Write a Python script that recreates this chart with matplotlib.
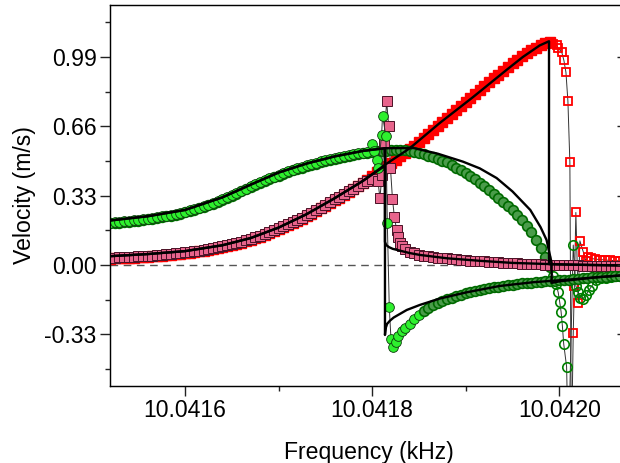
import numpy as np
import matplotlib
matplotlib.use('Agg')
import matplotlib.pyplot as plt
from matplotlib.ticker import FixedLocator, FormatStrFormatter

plt.rcParams['font.family'] = ['Liberation Sans', 'DejaVu Sans']
plt.rcParams['axes.unicode_minus'] = False

# frequencies are written as offsets in mHz above F0 (kHz)
F0 = 10.0415

# smooth part of the sweeps, common frequency grid
grid = [20, 25, 30, 35, 40, 45, 50, 55, 60, 65, 70, 75, 80, 85, 90, 95, 100, 105, 110, 115,
        120, 125, 130, 135, 140, 145, 150, 155, 160, 165, 170, 175, 180, 185, 190, 195, 200, 205, 210, 215,
        220, 225, 230, 235, 240, 245, 250, 255, 260, 265, 270, 275, 280, 285, 290, 295, 300, 305, 310, 315,
        320, 325, 330, 335, 340, 345, 350, 355, 360, 365, 370, 375, 380, 385, 390, 395, 400, 405, 410, 415,
        420, 425, 430, 435, 440, 445, 450, 455, 460, 465, 470, 475, 480, 485, 490]

# sweep up: in-phase (red squares) and quadrature (green open circles)
up_inphase = [0.030, 0.031, 0.032, 0.033, 0.034, 0.035, 0.037, 0.038, 0.040, 0.041,
              0.043, 0.045, 0.047, 0.049, 0.051, 0.053, 0.056, 0.059, 0.062, 0.065,
              0.068, 0.072, 0.076, 0.080, 0.085, 0.090, 0.095, 0.101, 0.107, 0.113,
              0.120, 0.127, 0.135, 0.143, 0.152, 0.161, 0.170, 0.180, 0.190, 0.200,
              0.210, 0.221, 0.232, 0.244, 0.256, 0.269, 0.282, 0.295, 0.308, 0.321,
              0.335, 0.348, 0.362, 0.376, 0.390, 0.405, 0.425, 0.441, 0.456, 0.471,
              0.486, 0.501, 0.517, 0.533, 0.550, 0.567, 0.585, 0.603, 0.622, 0.641,
              0.660, 0.679, 0.698, 0.717, 0.737, 0.756, 0.775, 0.793, 0.812, 0.831,
              0.850, 0.869, 0.888, 0.906, 0.925, 0.943, 0.960, 0.977, 0.993, 1.008,
              1.022, 1.035, 1.046, 1.056, 1.062]
up_quad = [0.198, 0.200, 0.202, 0.204, 0.206, 0.208, 0.211, 0.214, 0.217, 0.220,
           0.223, 0.227, 0.231, 0.235, 0.240, 0.245, 0.250, 0.256, 0.262, 0.269,
           0.276, 0.284, 0.292, 0.301, 0.310, 0.320, 0.330, 0.340, 0.350, 0.360,
           0.370, 0.380, 0.390, 0.399, 0.408, 0.417, 0.426, 0.434, 0.442, 0.450,
           0.457, 0.464, 0.471, 0.477, 0.483, 0.489, 0.495, 0.500, 0.505, 0.510,
           0.515, 0.519, 0.523, 0.527, 0.531, 0.535, 0.538, 0.541, 0.543, 0.545,
           0.547, 0.548, 0.548, 0.547, 0.544, 0.539, 0.534, 0.528, 0.521, 0.513,
           0.505, 0.497, 0.488, 0.476, 0.463, 0.450, 0.437, 0.423, 0.408, 0.392,
           0.375, 0.357, 0.339, 0.321, 0.302, 0.282, 0.261, 0.238, 0.213, 0.186,
           0.156, 0.121, 0.081, 0.038, -0.010]

# sweep up, jump region near 10.0420 kHz
up_jump_f_x = [493.5, 497.1, 498.8, 502.5, 504.9, 507.1, 509.2, 511.3, 512.9, 514.9, 516.1, 517.7,
               520.2, 522.0, 525.8, 528.4, 530.9, 533.8, 538.0, 543.4, 548.7, 554.1, 559.4, 564.7]
up_jump_x = [1.054, 1.046, 1.031, 1.015, 0.974, 0.917, 0.780, 0.488, -0.900, -0.325, -0.100, 0.250,
             -0.179, 0.115, 0.060, 0.020, 0.040, 0.032, 0.028, 0.026, 0.024, 0.022, 0.021, 0.020]
up_jump_f_y = [493.2, 496.4, 498.8, 500.4, 501.9, 503.3, 504.7, 507.8, 509.7, 514.9, 517.7, 520.2,
               522.5, 525.2, 528.4, 531.6, 534.8, 539.1, 544.4, 549.8, 555.1, 560.4, 564.7]
up_jump_y = [-0.050, -0.090, -0.130, -0.175, -0.222, -0.290, -0.375, -0.484, -0.900, 0.095, -0.100, -0.130,
             -0.155, -0.160, -0.145, -0.120, -0.100, -0.070, -0.064, -0.060, -0.057, -0.054, -0.052]

# sweep down: in-phase (pink squares) and quadrature (green circles)
dn_left_x = [0.034, 0.035, 0.036, 0.037, 0.038, 0.039, 0.041, 0.042, 0.044, 0.045,
             0.047, 0.049, 0.051, 0.053, 0.055, 0.057, 0.060, 0.063, 0.066, 0.069,
             0.072, 0.076, 0.080, 0.084, 0.089, 0.094, 0.099, 0.105, 0.111, 0.117,
             0.124, 0.131, 0.139, 0.147, 0.156, 0.165, 0.174, 0.184, 0.194, 0.204,
             0.214, 0.225, 0.236, 0.248, 0.260, 0.273, 0.286, 0.299, 0.312, 0.325,
             0.338, 0.351, 0.364, 0.376, 0.388, 0.399, 0.410]
dn_left_y = [0.202, 0.204, 0.206, 0.208, 0.210, 0.212, 0.215, 0.218, 0.221, 0.224,
             0.227, 0.231, 0.235, 0.239, 0.244, 0.249, 0.254, 0.260, 0.266, 0.273,
             0.280, 0.288, 0.296, 0.305, 0.314, 0.324, 0.334, 0.344, 0.354, 0.364,
             0.374, 0.384, 0.394, 0.403, 0.412, 0.421, 0.430, 0.438, 0.446, 0.454,
             0.461, 0.468, 0.475, 0.481, 0.487, 0.493, 0.499, 0.504, 0.509, 0.514,
             0.519, 0.523, 0.527, 0.531, 0.535, 0.539]

# sweep down, jump region near 10.0418 kHz
dn_jump_f_x = [306.2, 308.3, 310.5, 312.6, 315.5, 317.7, 319.6, 321.7, 323.8, 326.2, 327.9, 329.7, 332.0]
dn_jump_x = [0.400, 0.318, 0.430, 0.580, 0.780, 0.660, 0.460, 0.315, 0.227, 0.167, 0.135, 0.103, 0.090]
dn_jump_f_y = [299.5, 302.5, 304.8, 306.5, 310.1, 311.1, 314.7, 316.2, 318.3, 320.1, 321.9, 325.0, 328.0, 332.0]
dn_jump_y = [0.575, 0.545, 0.500, 0.460, 0.620, 0.710, 0.614, 0.200, -0.200, -0.350, -0.390, -0.365, -0.340, -0.315]

# sweep down, low branch
tail = [335, 340, 345, 350, 355, 360, 365, 370, 375, 380, 385, 390, 395, 400, 405, 410,
        415, 420, 425, 430, 435, 440, 445, 450, 455, 460, 465, 470, 475, 480, 485, 490,
        495, 500, 505, 510, 515, 520, 525, 530, 535, 540, 545, 550, 555, 560, 565]
dn_tail_x = [0.078, 0.063, 0.055, 0.048, 0.044, 0.041, 0.038, 0.035, 0.033, 0.031, 0.029, 0.027,
             0.025, 0.023, 0.021, 0.020, 0.018, 0.017, 0.015, 0.014, 0.013, 0.011, 0.010, 0.009,
             0.008, 0.007, 0.006, 0.005, 0.004, 0.003, 0.002, 0.001, 0.001, 0.000, -0.001, -0.001,
             -0.002, -0.002, -0.003, -0.003, -0.003, -0.004, -0.004, -0.004, -0.005, -0.005, -0.005]
dn_tail_y = [-0.302, -0.280, -0.257, -0.236, -0.218, -0.204, -0.192, -0.182, -0.172, -0.163, -0.155, -0.148,
             -0.141, -0.135, -0.129, -0.124, -0.119, -0.115, -0.111, -0.107, -0.104, -0.100, -0.097, -0.094,
             -0.091, -0.088, -0.086, -0.084, -0.082, -0.080, -0.078, -0.076, -0.074, -0.072, -0.070, -0.069,
             -0.067, -0.065, -0.063, -0.061, -0.059, -0.058, -0.056, -0.055, -0.054, -0.053, -0.052]

# model curves (black)
th_up_f_x = [20, 60, 100, 140, 170, 200, 230, 260, 290, 314, 340, 372, 408, 444, 461, 479, 489, 489, 500, 530, 565]
th_up_x = [0.042, 0.052, 0.066, 0.094, 0.128, 0.178, 0.242, 0.318, 0.400, 0.478, 0.555, 0.675, 0.800,
           0.930, 0.990, 1.045, 1.065, 0.004, 0.003, 0.000, -0.002]
th_up_f_y = [20, 60, 100, 140, 170, 200, 230, 260, 290, 314, 344, 370, 397, 415, 433, 450, 469, 480,
             486.4, 491.8, 491.8, 500, 520, 540, 565]
th_up_y = [0.212, 0.232, 0.262, 0.322, 0.382, 0.440, 0.483, 0.517, 0.543, 0.556, 0.557, 0.530, 0.492,
           0.460, 0.414, 0.350, 0.262, 0.180, 0.119, 0.010, -0.085, -0.078, -0.068, -0.058, -0.050]
th_dn_f_x = [20, 60, 100, 140, 170, 200, 230, 260, 290, 313.7, 313.7, 315, 318, 322, 330, 340, 351,
             380, 415, 450, 500, 565]
th_dn_x = [0.042, 0.052, 0.066, 0.094, 0.128, 0.178, 0.242, 0.318, 0.400, 0.472, 0.110, 0.095, 0.085,
           0.077, 0.068, 0.057, 0.048, 0.032, 0.020, 0.010, 0.003, -0.002]
th_dn_f_y = [20, 60, 100, 140, 170, 200, 230, 260, 290, 313.7, 313.7, 314.5, 316, 319, 323, 330, 337,
             351, 372, 401, 436, 472, 508, 565]
th_dn_y = [0.212, 0.232, 0.262, 0.322, 0.382, 0.440, 0.483, 0.517, 0.543, 0.556, -0.333, -0.300, -0.280,
           -0.265, -0.250, -0.232, -0.214, -0.190, -0.160, -0.130, -0.100, -0.082, -0.070, -0.050]


def khz(offsets):
    return F0 + np.asarray(offsets, dtype=float) * 1e-6


fig = plt.figure(figsize=(6.2, 4.63), dpi=100)
ax = fig.add_axes([110 / 620, 77 / 463, 517 / 620, 381 / 463])

ax.axhline(0, color='#555555', lw=1.0, dashes=(5.5, 4), zorder=1)

conn = dict(color='#333333', lw=0.7)
red_dense = dict(marker='s', ms=7.0, mfc='#ff0000', mec='#ff0000', mew=1.0)
red_open = dict(marker='s', ms=6.3, mfc='none', mec='#ff0000', mew=1.3)
ring_dense = dict(marker='o', ms=7.0, mfc='#4a9c4a', mec='#006a00', mew=1.2)
ring_open = dict(marker='o', ms=6.8, mfc='none', mec='#008000', mew=1.2)
pink = dict(marker='s', ms=6.8, mfc='#e8648c', mec='#4a1226', mew=0.7)
lime = dict(marker='o', ms=7.0, mfc='#2ef02e', mec='#0c3a0c', mew=0.6)

# sweep up, in-phase
f_up_x = np.concatenate([khz(grid), khz(up_jump_f_x)])
v_up_x = np.concatenate([up_inphase, up_jump_x])
ax.plot(f_up_x, v_up_x, zorder=2, **conn)
ax.plot(khz(grid), up_inphase, ls='none', zorder=2, **red_dense)
ax.plot(khz(up_jump_f_x), up_jump_x, ls='none', zorder=2, **red_open)

# sweep up, quadrature
f_up_y = np.concatenate([khz(grid), khz(up_jump_f_y)])
v_up_y = np.concatenate([up_quad, up_jump_y])
ax.plot(f_up_y, v_up_y, zorder=3, **conn)
ax.plot(khz(grid), up_quad, ls='none', zorder=3, **ring_dense)
ax.plot(khz(up_jump_f_y), up_jump_y, ls='none', zorder=3, **ring_open)

# sweep down, in-phase
f_dn_x = np.concatenate([khz(grid[:57]), khz(dn_jump_f_x), khz(tail)])
v_dn_x = np.concatenate([dn_left_x, dn_jump_x, dn_tail_x])
ax.plot(f_dn_x, v_dn_x, zorder=4, **conn, **pink)

# sweep down, quadrature
f_dn_y = np.concatenate([khz(grid[:56]), khz(dn_jump_f_y), khz(tail)])
v_dn_y = np.concatenate([dn_left_y, dn_jump_y, dn_tail_y])
ax.plot(f_dn_y, v_dn_y, zorder=5, **conn)
low = f_dn_y >= khz(352)
ax.plot(f_dn_y[~low], v_dn_y[~low], ls='none', zorder=5, **lime)
ax.plot(f_dn_y[low], v_dn_y[low], ls='none', zorder=5, **ring_dense)

# model
for f, v in [(th_up_f_x, th_up_x), (th_up_f_y, th_up_y), (th_dn_f_x, th_dn_x), (th_dn_f_y, th_dn_y)]:
    ax.plot(khz(f), v, color='black', lw=1.7, zorder=6)

ax.set_xlim(10.04151985, 10.04207235)
ax.set_ylim(-0.5759, 1.2376)

ax.xaxis.set_major_locator(FixedLocator([10.0416, 10.0418, 10.0420]))
ax.xaxis.set_minor_locator(FixedLocator([10.0417, 10.0419]))
ax.xaxis.set_major_formatter(FormatStrFormatter('%.4f'))
ax.yaxis.set_major_locator(FixedLocator([-0.33, 0.0, 0.33, 0.66, 0.99]))
ax.yaxis.set_minor_locator(FixedLocator([-0.495, -0.165, 0.165, 0.495, 0.825, 1.155]))
ax.yaxis.set_major_formatter(FormatStrFormatter('%.2f'))

ax.tick_params(which='major', direction='out', length=7.2, width=1.0, labelsize=16.6, color='#222222')
ax.tick_params(axis='x', which='major', pad=2.0)
ax.tick_params(axis='y', which='major', pad=2.5)
ax.tick_params(which='minor', direction='out', length=3.8, width=1.0, color='#222222')
for s in ax.spines.values():
    s.set_linewidth(1.0)
    s.set_color('#222222')

ax2 = ax.twinx()
ax2.set_ylim(ax.get_ylim())
ax2.yaxis.set_major_locator(FixedLocator([-0.33, 0.0, 0.33, 0.66, 0.99]))
ax2.tick_params(direction='in', length=7.2, width=1.0, labelright=False, color='#222222')

ax.set_xlabel('Frequency (kHz)', fontsize=16.6, labelpad=14)
ax.set_ylabel('Velocity (m/s)', fontsize=16.6, labelpad=6)

fig.savefig('out.png', dpi=100)
